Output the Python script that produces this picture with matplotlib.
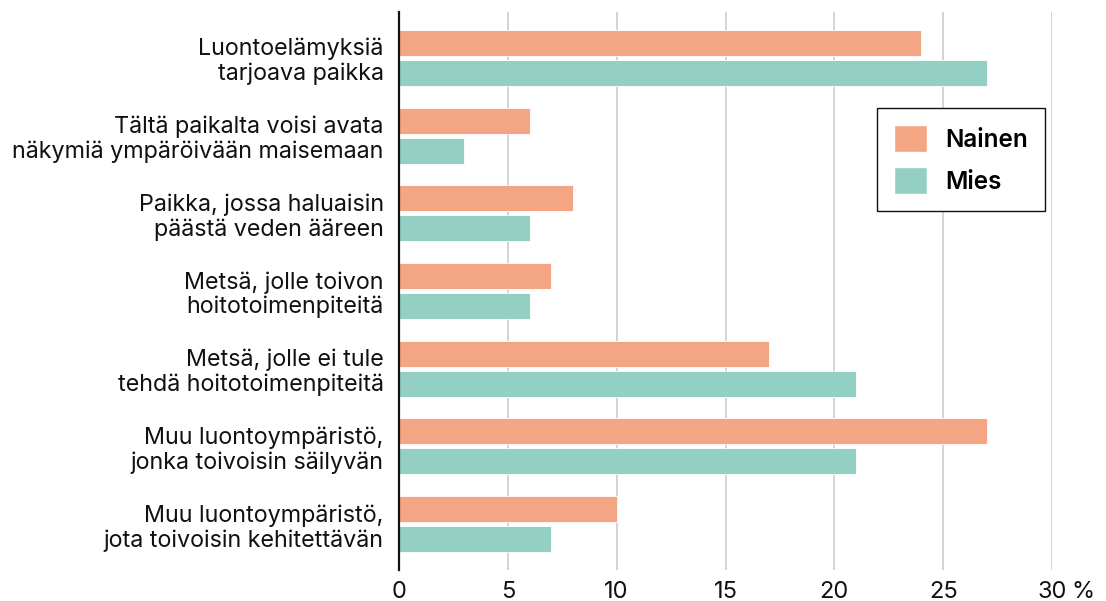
import numpy as np
import matplotlib.pyplot as plt
from matplotlib.patches import Patch

plt.rcParams['font.family'] = ['Inter', 'DejaVu Sans']

CATEGORIES = ["Luontoelämyksiä\ntarjoava paikka",
              "Tältä paikalta voisi avata\nnäkymiä ympäröivään maisemaan",
              "Paikka, jossa haluaisin\npäästä veden ääreen",
              "Metsä, jolle toivon\nhoitotoimenpiteitä",
              "Metsä, jolle ei tule\ntehdä hoitotoimenpiteitä",
              "Muu luontoympäristö,\njonka toivoisin säilyvän",
              "Muu luontoympäristö,\njota toivoisin kehitettävän"]
NAINEN = [24, 6, 8, 7, 17, 27, 10]
MIES = [27, 3, 6, 6, 21, 21, 7]
XTICKS = [0, 5, 10, 15, 20, 25, 30]

C_NAINEN = "#F4A684"
C_MIES = "#93CFC3"

fig = plt.figure(figsize=(11.06, 6.01), dpi=100)
ax = fig.add_axes([399 / 1106, 1 - 570 / 601, (1052 - 399) / 1106, 558 / 601])

y = np.arange(len(CATEGORIES))
h = 0.335
off = 0.193
ax.barh(y - off, NAINEN, height=h, color=C_NAINEN, edgecolor="white", linewidth=0.6, zorder=3)
ax.barh(y + off, MIES, height=h, color=C_MIES, edgecolor="white", linewidth=0.6, zorder=3)

ax.set_ylim(len(CATEGORIES) - 0.41, -0.59)
ax.set_xlim(0, 30)
ax.set_yticks(y)
ax.set_yticklabels(CATEGORIES, fontsize=16.8, linespacing=1.14)
ax.set_xticks(XTICKS)
ax.set_xticklabels([str(t) for t in XTICKS], fontsize=17)
ax.tick_params(axis="both", length=0, colors="#111111")
ax.tick_params(axis="y", pad=11)
ax.tick_params(axis="x", pad=8)
ax.annotate("%", xy=(30, 0), xycoords=("data", "axes fraction"),
            xytext=(14, -8), textcoords="offset points",
            ha="left", va="top", fontsize=17, color="#111111")

ax.grid(axis="x", color="#c8c8c8", linewidth=1.1, zorder=0)
for side in ["top", "right", "bottom"]:
    ax.spines[side].set_visible(False)
ax.spines["left"].set_color("#111111")
ax.spines["left"].set_linewidth(1.6)
ax.spines["left"].set_zorder(4)

handles = [Patch(facecolor=C_NAINEN, edgecolor="white", label="Nainen"),
           Patch(facecolor=C_MIES, edgecolor="white", label="Mies")]
leg = fig.legend(handles=handles, loc="upper left",
                 bbox_to_anchor=(877 / 1106, 1 - 108 / 601),
                 prop={"size": 17.5, "weight": "semibold"},
                 handlelength=1.35, handleheight=1.35, handletextpad=0.75,
                 borderpad=0.7, labelspacing=0.6, borderaxespad=0,
                 fancybox=False, framealpha=1)
leg.get_frame().set_edgecolor("#111111")
leg.get_frame().set_linewidth(1.0)

fig.savefig("out.png", dpi=100)
